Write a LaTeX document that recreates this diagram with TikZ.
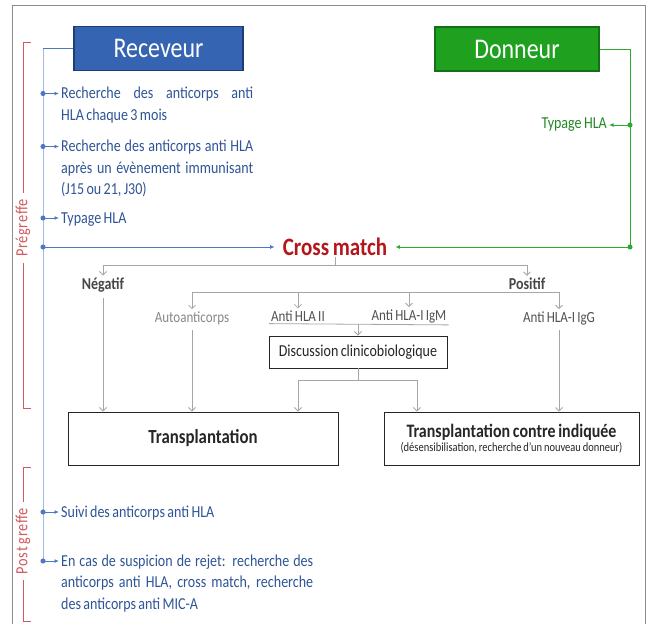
\documentclass[tikz,border=0pt]{standalone}
\usepackage{fontspec}
\setmainfont{Carlito}[FakeStretch=0.84, WordSpace=0.75]
\usetikzlibrary{arrows.meta,positioning,calc}
\definecolor{framegray}{HTML}{8C8C8C}
\definecolor{recblue}{HTML}{3565B2}
\definecolor{recedge}{HTML}{1F3C74}
\definecolor{dongreen}{HTML}{1FA01F}
\definecolor{donedge}{HTML}{13701A}
\definecolor{bluetxt}{HTML}{2F5597}
\definecolor{blueln}{HTML}{4A78C2}
\definecolor{bluepale}{HTML}{A3BBE2}
\definecolor{greenln}{HTML}{2DAA2D}
\definecolor{cmred}{HTML}{B3171C}
\definecolor{brkred}{HTML}{D05A5E}
\definecolor{treeln}{HTML}{A6A6A6}
\definecolor{ink}{HTML}{262626}
\tikzset{
  every node/.style={inner sep=2pt},
  hdr/.style={draw=recedge, line width=1.2pt, fill=recblue, text=white,
              minimum width=169pt, minimum height=44pt, font=\fontsize{28.5}{32}\selectfont},
  donhdr/.style={hdr, draw=donedge, fill=dongreen},
  box/.style={draw=ink, line width=0.9pt, fill=white, align=center, text=ink},
  item/.style={text=bluetxt, font=\fontsize{16.7}{21.5}\selectfont, align=justify,
               inner sep=0pt, anchor=base west},
  lbl/.style={text=ink!80, font=\fontsize{15.5}{17}\selectfont},
  res/.style={text=ink!85, font=\bfseries\fontsize{16.7}{19}\selectfont},
  tline/.style={draw=treeln, line width=0.8pt},
  tarr/.style={tline, -{Straight Barb[length=3.5pt,width=7pt]}},
  bline/.style={draw=blueln, line width=0.9pt},
  barr/.style={bline, shorten <=-2.5pt, arrows={Circle[length=5pt]-Latex[length=4.5pt,width=4pt]}},
  gline/.style={draw=greenln, line width=0.9pt},
  garr/.style={barr, draw=greenln},
  brk/.style={draw=brkred, line width=1pt},
  phase/.style={text=brkred, rotate=90, inner xsep=6pt,
                font=\fontsize{17}{19}\selectfont\addfontfeature{LetterSpace=4}},
}
\begin{document}
\begin{tikzpicture}[x=1pt, y=-1pt]
\useasboundingbox (0,0) rectangle (650,624);
\fill[white] (0,0) rectangle (650,624);
\draw[framegray, line width=0.8pt] (12,624) -- (12,5) -- (645,5) -- (645,624);

% --- headers ---
\node[hdr] (rec) at (158.5,48.5) {Receveur};
\node[donhdr, minimum width=164pt] (don) at (517,49) {Donneur};

% --- recipient side ---
\coordinate (vbot) at (43,561);
\draw[bline] (rec.west) -- (rec.west -| vbot);
\draw[draw=bluepale, line width=0.9pt] (rec.west -| vbot) -- (vbot);
\node[item, text width=192pt] (it1) at (61,98.5) {Recherche des anticorps anti\linebreak HLA chaque 3 mois};
\node[item, text width=192pt] (it2) at (61,151.5) {Recherche des anticorps anti HLA\linebreak après un évènement immunisant\linebreak (J15 ou 21, J30)};
\node[item, text width=200pt] (it3) at (61,223) {Typage HLA};
\node[item, text width=200pt] (it4) at (61,517) {Suivi des anticorps anti HLA};
\node[item, text width=252pt] (it5) at (61,566) {En cas de suspicion de rejet: recherche des\linebreak anticorps anti HLA, cross match, recherche\linebreak des anticorps anti MIC-A};
\foreach \n in {it1,it2,it3,it4,it5}
  \draw[barr, shorten >=2pt] ([yshift=5pt]\n.base west -| vbot) -- ([yshift=5pt]\n.base west);

% --- cross match ---
\node[font=\bfseries\fontsize{25}{28}\selectfont, text=cmred, inner xsep=8pt, inner ysep=1pt] (cm) at (335,247) {Cross match};
\draw[barr] (cm.west -| vbot) -- (cm.west);

% --- donor side ---
\coordinate (gr) at (630,0);
\node[text=greenln!80!black, font=\fontsize{16.7}{19}\selectfont, anchor=east] (typ) at (609,125) {Typage HLA};
\draw[gline] (don.east) -| (cm.east -| gr);
\draw[garr] (typ.east -| gr) -- (typ.east);
\draw[garr] (cm.east -| gr) -- (cm.east);

% --- results tree ---
\node[res] (neg) at (103,285) {Négatif};
\node[res] (pos) at (527,284) {Positif};
\coordinate (cmj) at (335,265);
\draw[tline] (cm.south) -- (cmj);
\draw[tarr] (cmj) -| (neg.north);
\draw[tarr] (cmj) -| (pos.north);

\node[lbl, text=ink!55] (auto) at (192,318) {Autoanticorps};
\node[lbl] (hla2) at (298,316) {Anti HLA II};
\node[lbl] (igm) at (409,316) {Anti HLA-I IgM};
\node[lbl] (igg) at (559,318) {Anti HLA-I IgG};
\coordinate (pj) at (pos.south);
\draw[tline] (auto.north |- pj) -- (igg.north |- pj);
\foreach \n in {auto,hla2,igm,igg}
  \draw[tarr] (\n.north |- pj) -- (\n.north);
\draw[tline] (hla2.south west) -- (igm.south east);

\node[box, minimum width=178pt, minimum height=32pt, font=\fontsize{16.7}{19}\selectfont] (disc) at (358,352) {Discussion clinicobiologique};
\draw[tarr] (disc.north |- hla2.south) -- (disc.north);

% --- outcomes ---
\node[box, minimum width=270pt, minimum height=53pt, font=\bfseries\fontsize{20}{23}\selectfont] (tr) at (203,438.5) {Transplantation};
\node[box, minimum width=255pt, minimum height=53pt] (trci) at (511.5,438.5)
  {{\bfseries\fontsize{19}{22}\selectfont Transplantation contre indiquée}\\[1pt]{\fontsize{12.5}{14}\selectfont (désensibilisation, recherche d’un nouveau donneur)}};
\coordinate (dl) at (298,380);
\coordinate (dr) at (417,380);
\draw[tline] (disc.south) -- (disc.south |- dl);
\draw[tline] (dl) -- (dr);
\draw[tarr] (dl) -- (dl |- tr.north);
\draw[tarr] (dr) -- (dr |- trci.north);
\draw[tarr, shorten <=4pt] (neg.south) -- (neg.south |- tr.north);
\draw[tarr, shorten <=3pt] (auto.south) -- (auto.south |- tr.north);
\draw[tarr, shorten <=3pt] (igg.south) -- (igg.south |- trci.north);

% --- phases ---
\node[phase] (pre) at (23,228) {Prégreffe};
\draw[brk] (pre.east) -- (23,42) -- (31,42);
\draw[brk] (pre.west) -- (23,408) -- (31,408);
\node[phase] (post) at (23,541) {Post greffe};
\draw[brk] (post.east) -- (23,467) -- (31,467);
\draw[brk] (post.west) -- (23,621) -- (31,621);

\end{tikzpicture}
\end{document}
